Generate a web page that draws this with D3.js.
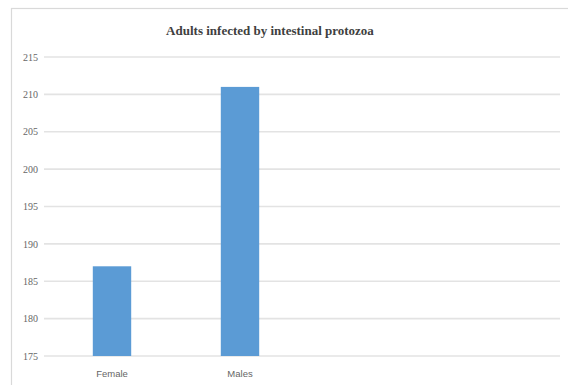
<!DOCTYPE html>
<html>
<head>
<meta charset="utf-8">
<script src="https://cdn.jsdelivr.net/npm/d3@7"></script>
<style>
  html, body { margin: 0; padding: 0; background: #fff; }
  svg { display: block; }
</style>
</head>
<body>
<svg id="chart" width="568" height="385"></svg>
<script>
const title = "Adults infected by intestinal protozoa";
const categories = ["Female", "Males"];
const values = [187, 211];
const yTicks = [175, 180, 185, 190, 195, 200, 205, 210, 215];

const W = 568, H = 385;
const svg = d3.select("#chart");

// chart area frame (extends past the right and bottom edges)
svg.append("rect")
  .attr("x", 11.5).attr("y", 8.5)
  .attr("width", W + 20).attr("height", H + 20)
  .attr("fill", "#fff")
  .attr("stroke", "#d9d9d9")
  .attr("stroke-width", 1.2);

const plot = { left: 44, right: 560, top: 57, bottom: 356 };

const y = d3.scaleLinear()
  .domain([175, 215])
  .range([plot.bottom, plot.top]);

const x = d3.scaleBand()
  .domain(categories)
  .range([48, 304])
  .paddingInner(0.7)
  .paddingOuter(0.35);

// horizontal gridlines
svg.append("g")
  .selectAll("line")
  .data(yTicks)
  .join("line")
  .attr("x1", plot.left).attr("x2", plot.right)
  .attr("y1", d => y(d)).attr("y2", d => y(d))
  .attr("stroke", "#e3e3e3")
  .attr("stroke-width", 1.6);

// y axis labels
const yAxis = d3.axisLeft(y).tickValues(yTicks).tickSize(0).tickPadding(0);
const gy = svg.append("g")
  .attr("transform", `translate(38,0)`)
  .call(yAxis);
gy.select(".domain").remove();
gy.selectAll("text")
  .attr("fill", "#666")
  .style("font-family", "'Liberation Serif', serif")
  .style("font-size", "10px");

// bars
svg.append("g")
  .selectAll("rect")
  .data(values)
  .join("rect")
  .attr("x", (d, i) => x(categories[i]))
  .attr("width", x.bandwidth())
  .attr("y", d => y(d))
  .attr("height", d => y(175) - y(d))
  .attr("fill", "#5b9bd5");

// category labels
const xAxis = d3.axisBottom(x).tickSize(0).tickPadding(0);
const gx = svg.append("g")
  .attr("transform", `translate(0,${plot.bottom + 14})`)
  .call(xAxis);
gx.select(".domain").remove();
gx.selectAll("text")
  .attr("fill", "#666")
  .style("font-family", "'Liberation Sans', sans-serif")
  .style("font-size", "9.5px");

// title
svg.append("text")
  .attr("x", 270)
  .attr("y", 35)
  .attr("text-anchor", "middle")
  .attr("fill", "#404040")
  .style("font-family", "'Liberation Serif', serif")
  .style("font-weight", "bold")
  .style("font-size", "13px")
  .text(title);
</script>
</body>
</html>
